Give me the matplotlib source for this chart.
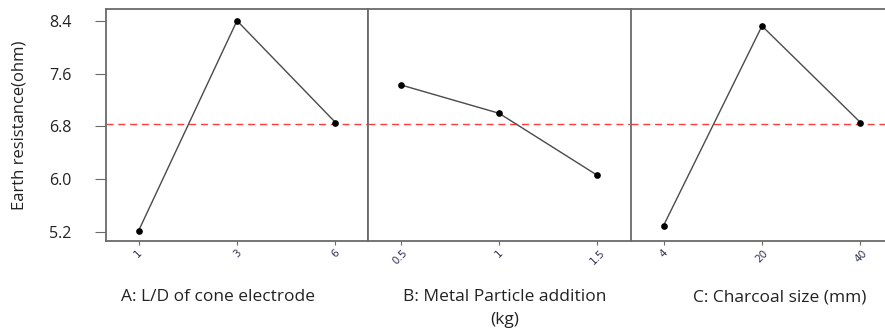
"""Main effects plot for earth resistance (three factors, shared y axis)."""

import matplotlib
import matplotlib.pyplot as plt

matplotlib.use("Agg")

# factor levels (tick labels) and mean response at each level
levels_a = ["1", "3", "6"]
levels_b = ["0.5", "1", "1.5"]
levels_c = ["4", "20", "40"]
resp_a = [5.22, 8.40, 6.86]
resp_b = [7.43, 7.00, 6.06]
resp_c = [5.30, 8.32, 6.86]
grand_mean = 6.84

factor_names = ["A: L/D of cone electrode", "B: Metal Particle addition\n(kg)", "C: Charcoal size (mm)"]
y_ticks = [5.2, 6.0, 6.8, 7.6, 8.4]

W, H = 885, 336
FRAME = "#6a6a6a"


def main() -> None:
    plt.rcParams["font.family"] = ["Open Sans", "DejaVu Sans"]
    fig = plt.figure(figsize=(W / 100, H / 100), dpi=100)

    panels = [(levels_a, resp_a), (levels_b, resp_b), (levels_c, resp_c)]
    lefts = [106, 368, 631]
    label_x = [218, 505, 780]
    bottom, top = 241, 9
    width = 262

    for i, ((levels, resp), left) in enumerate(zip(panels, lefts)):
        ax = fig.add_axes([left / W, 1 - bottom / H, width / W, (bottom - top) / H])
        x = range(len(levels))
        ax.plot(x, resp, "-", color="#4a4a4a", lw=1.0, zorder=3)
        ax.plot(x, resp, "o", color="black", ms=3.8, zorder=4)
        ax.axhline(grand_mean, color="#ff3b3b", ls=(0, (5, 3.5)), lw=1.0, zorder=2)
        ax.set_xlim(-0.33, 2.33)
        ax.set_ylim(5.068, 8.577)
        ax.set_xticks(list(x))
        ax.set_xticklabels(levels, rotation=45, ha="center", va="top",
                           fontsize=7.5, color="#333355", family="DejaVu Sans")
        ax.tick_params(axis="x", length=3, width=0.8, color=FRAME, pad=2)
        for s in ax.spines.values():
            s.set_color(FRAME)
            s.set_linewidth(1.3)
        if i == 1:
            ax.spines["right"].set_visible(False)
        if i == 0:
            ax.set_yticks(y_ticks)
            ax.set_yticklabels([f"{v:.1f}" for v in y_ticks], fontsize=11.5, color="#222222")
            ax.tick_params(axis="y", length=8, width=0.8, color=FRAME, pad=17)
            ax.set_ylabel("Earth resistance(ohm)", fontsize=12, color="#222222")
            ax.yaxis.set_label_coords(-0.30, 0.5)
        else:
            ax.set_yticks([])
        fig.text(label_x[i] / W, 1 - 289 / H, factor_names[i], ha="center", va="top",
                 fontsize=12.5, color="#222222", linespacing=1.6)

    fig.savefig("out.png", dpi=100)
    plt.close(fig)


if __name__ == "__main__":
    main()
